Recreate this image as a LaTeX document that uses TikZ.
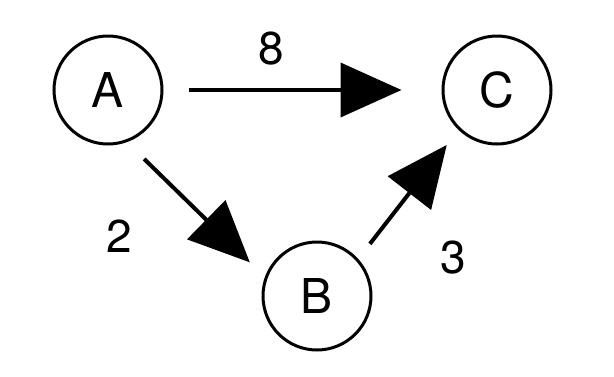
\documentclass[tikz,border=0pt]{standalone}
\usepackage{fontspec}
\setmainfont{TeX Gyre Heros}
\usetikzlibrary{arrows.meta}

\begin{document}
\begin{tikzpicture}[
    x=1pt, y=-1pt,
    vertex/.style={draw, circle, line width=3pt, minimum size=108pt,
                   inner sep=0pt, font=\fontsize{48}{50}\selectfont},
    weight/.style={font=\fontsize{46}{48}\selectfont, inner sep=0pt},
    edge/.style={-{Triangle[length=61pt,width=54pt]}, line width=4pt}
]
    \useasboundingbox (0,0) rectangle (614,376);

    % Nodes
    \node[vertex] (A) at (108,90) {A};
    \node[vertex] (B) at (317,296) {B};
    \node[vertex] (C) at (497,90) {C};

    % Weights
    \node[weight] (w8) at (271,49) {8};
    \node[weight] (w2) at (119,236) {2};
    \node[weight] (w3) at (453,258) {3};

    % Edges
    \draw[edge, shorten <=25pt, shorten >=40pt] (A.east) -- (C.west);
    \draw[edge, shorten <=24pt, shorten >=21pt] (A.-70) -- (B.160);
    \draw[edge, shorten <=19pt, shorten >=19pt] (B.42) -- (C.226);
\end{tikzpicture}
\end{document}
